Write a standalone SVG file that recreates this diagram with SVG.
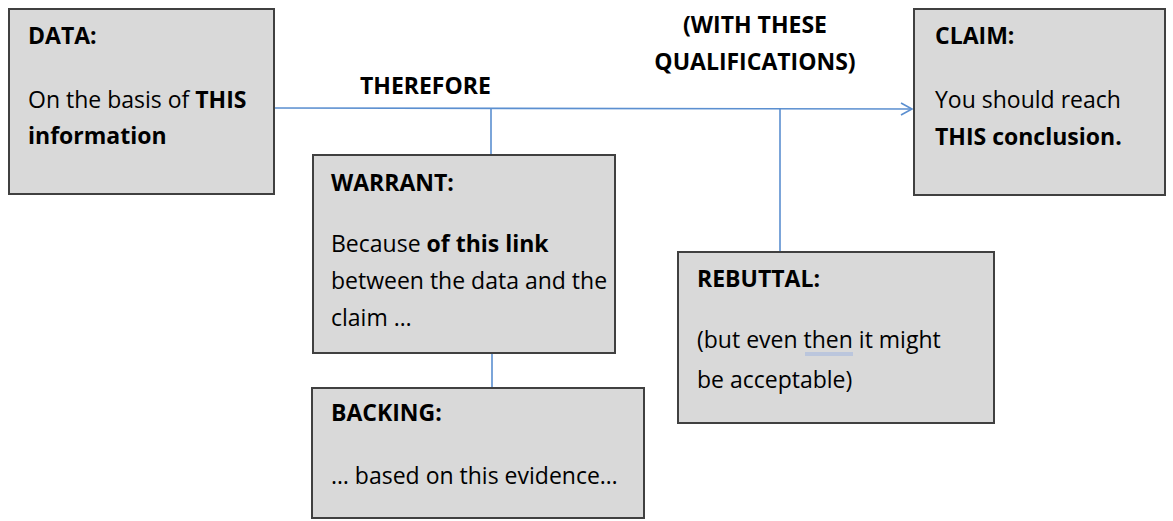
<svg xmlns="http://www.w3.org/2000/svg" width="1173" height="521" viewBox="0 0 1173 521">
<defs>
<style>
.box{fill:#d9d9d9;stroke:#404040;stroke-width:2}
.t{font-family:"Open Sans","Liberation Sans",Arial,sans-serif;font-size:23px;fill:#000}
.b{font-weight:bold}
.conn{stroke:#5b8fd0;stroke-width:1.6;fill:none}
</style>
<marker id="arr" markerWidth="14" markerHeight="14" refX="12" refY="7" orient="auto" markerUnits="userSpaceOnUse">
<path d="M1,1 L12,7 L1,13" fill="none" stroke="#5b8fd0" stroke-width="1.6"/>
</marker>
</defs>
<rect width="1173" height="521" fill="#fff"/>
<g id="connectors">
<line class="conn" x1="275" y1="108" x2="912" y2="109" marker-end="url(#arr)"/>
<line class="conn" x1="491" y1="108" x2="491" y2="155"/>
<line class="conn" x1="780" y1="109" x2="780" y2="251"/>
<line class="conn" x1="492" y1="353" x2="492" y2="388"/>
</g>
<g id="labels">
<text class="t b" x="360" y="94">THEREFORE</text>
<text class="t b" x="755" y="33" text-anchor="middle">(WITH THESE</text>
<text class="t b" x="755" y="70" text-anchor="middle">QUALIFICATIONS)</text>
</g>
<g id="data">
<rect class="box" x="9" y="9" width="265" height="185"/>
<text class="t b" x="28" y="44">DATA:</text>
<text class="t" x="28" y="108">On the basis of <tspan class="b">THIS</tspan></text>
<text class="t b" x="28" y="144">information</text>
</g>
<g id="claim">
<rect class="box" x="914" y="9" width="251" height="186"/>
<text class="t b" x="935" y="44">CLAIM:</text>
<text class="t" x="935" y="108">You should reach</text>
<text class="t b" x="935" y="145">THIS conclusion.</text>
</g>
<g id="warrant">
<rect class="box" x="313" y="155" width="302" height="198"/>
<text class="t b" x="331" y="191">WARRANT:</text>
<text class="t" x="331" y="252">Because <tspan class="b">of this link</tspan></text>
<text class="t" x="331" y="289">between the data and the</text>
<text class="t" x="331" y="326">claim …</text>
</g>
<g id="backing">
<rect class="box" x="312" y="388" width="332" height="130"/>
<text class="t b" x="331" y="421">BACKING:</text>
<text class="t" x="331" y="484">… based on this evidence…</text>
</g>
<g id="rebuttal">
<rect class="box" x="678" y="252" width="316" height="171"/>
<text class="t b" x="697" y="287">REBUTTAL:</text>
<text class="t" x="697" y="348">(but even then it might</text>
<text class="t" x="697" y="388">be acceptable)</text>
<path d="M805,353 H853 M805,355 H853" stroke="#9db3e0" stroke-width="1"/>
</g>
</svg>
